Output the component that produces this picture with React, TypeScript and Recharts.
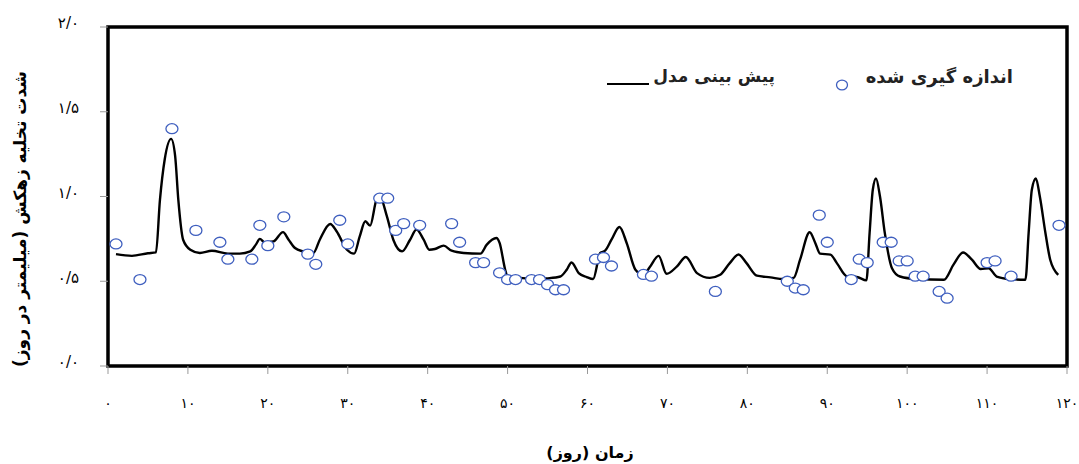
import { ComposedChart, Line, Scatter, XAxis, YAxis, ReferenceArea } from "recharts";

// روزهای اندازه گیری و شدت تخلیه (mm/day)
const measuredDays = [
  1, 4, 8, 11, 14, 15, 18, 19, 20, 22, 25, 26, 29, 30, 34, 35, 36, 37, 39, 43,
  44, 46, 47, 49, 50, 51, 53, 54, 55, 56, 57, 61, 62, 63, 67, 68, 76, 85, 86, 87,
  89, 90, 93, 94, 95, 97, 98, 99, 100, 101, 102, 104, 105, 110, 111, 113, 119,
];
const measuredValues = [
  0.72, 0.51, 1.4, 0.8, 0.73, 0.63, 0.63, 0.83, 0.71, 0.88, 0.66, 0.6, 0.86, 0.72,
  0.99, 0.99, 0.8, 0.84, 0.83, 0.84, 0.73, 0.61, 0.61, 0.55, 0.51, 0.51, 0.51,
  0.51, 0.48, 0.45, 0.45, 0.63, 0.64, 0.59, 0.54, 0.53, 0.44, 0.5, 0.46, 0.45,
  0.89, 0.73, 0.51, 0.63, 0.61, 0.73, 0.73, 0.62, 0.62, 0.53, 0.53, 0.44, 0.4,
  0.61, 0.62, 0.53, 0.83,
];

// پیش بینی مدل
const modelDays = [
  1, 3, 5, 6, 6.5, 7.1, 7.9, 8.4, 8.8, 9.4, 10.3, 11.5, 13, 15, 16.5, 17.8, 18.5,
  19, 19.6, 20.7, 21.9, 22.6, 23.4, 24.4, 25.7, 26.5, 27.8, 28.6, 29.9, 30.8,
  31.5, 32.2, 32.8, 33.6, 34, 34.9, 35.7, 36.8, 37.8, 38.6, 39.5, 40.2, 40.9, 42,
  43, 44.5, 46.6, 47.4, 48.6, 49, 49.7, 50, 51.6, 53.7, 54.9, 56.6, 57.4, 58,
  58.9, 59.9, 60.7, 61.6, 62.2, 63, 64, 64.9, 66, 67, 67.8, 68.9, 69.9, 71.2,
  72.3, 73.7, 75.3, 76.6, 77.8, 78.9, 79.9, 81.2, 82.9, 84.5, 85.8, 86.6, 87.8,
  88.5, 89.1, 90.4, 91.2, 92.5, 93.7, 94.9, 95.3, 95.7, 96.1, 96.6, 97.2, 98.1,
  99.1, 101.2, 104.6, 105.8, 107, 108.1, 109.2, 110.2, 111.2, 112.9, 114.8,
  115.2, 115.6, 116.1, 116.6, 117.3, 117.9, 118.9,
];
const modelValues = [
  0.66, 0.65, 0.665, 0.67, 0.98, 1.22, 1.34, 1.24, 0.98, 0.745, 0.686, 0.667,
  0.68, 0.663, 0.663, 0.676, 0.716, 0.75, 0.73, 0.735, 0.79, 0.745, 0.696, 0.676,
  0.667, 0.745, 0.838, 0.795, 0.686, 0.663, 0.765, 0.854, 0.828, 0.982, 1.0,
  0.883, 0.745, 0.676, 0.745, 0.805, 0.745, 0.686, 0.69, 0.71, 0.68, 0.667,
  0.663, 0.716, 0.755, 0.726, 0.568, 0.525, 0.52, 0.513, 0.517, 0.528, 0.568,
  0.611, 0.548, 0.525, 0.513, 0.667, 0.68, 0.745, 0.82, 0.726, 0.568, 0.538,
  0.584, 0.65, 0.544, 0.588, 0.643, 0.548, 0.52, 0.538, 0.607, 0.658, 0.607,
  0.533, 0.523, 0.513, 0.52, 0.627, 0.789, 0.726, 0.663, 0.657, 0.607, 0.528,
  0.525, 0.505, 0.785, 1.04, 1.106, 1.0, 0.785, 0.577, 0.528, 0.513, 0.509,
  0.598, 0.67, 0.627, 0.572, 0.577, 0.528, 0.513, 0.509, 0.785, 1.04, 1.106, 1.0,
  0.785, 0.627, 0.538,
];

const xTicks = [0, 10, 20, 30, 40, 50, 60, 70, 80, 90, 100, 110, 120];
const yTicks = [0, 0.5, 1, 1.5, 2];

const FONT = "'DejaVu Sans', sans-serif";
const BLUE = "#3f5fbf";

const faDigits = (s: string) => s.replace(/\d/g, (d) => "۰۱۲۳۴۵۶۷۸۹"[+d]);

const measured = measuredDays.map((x, i) => ({ x, y: measuredValues[i] }));
const model = modelDays.map((x, i) => ({ x, y: modelValues[i] }));

function OpenCircle(props: any) {
  const { cx, cy } = props;
  if (cx == null || cy == null) return null;
  return <ellipse cx={cx} cy={cy} rx={6} ry={5} fill="#fff" stroke={BLUE} strokeWidth={1.3} />;
}

export default function App() {
  return (
    <div style={{ position: "absolute", left: 0, top: 0, width: 1079, height: 464, background: "#fff", fontFamily: FONT }}>
      <ComposedChart width={1079} height={464} margin={{ top: 27, right: 12, bottom: 68, left: 0 }}>
        <XAxis
          type="number"
          dataKey="x"
          domain={[0, 120]}
          ticks={xTicks}
          interval={0}
          height={30}
          axisLine={false}
          tickLine={{ stroke: "#999" }}
          tickSize={8}
          tickMargin={24}
          tick={{ fontSize: 14, fill: "#000", fontFamily: FONT }}
          tickFormatter={(v: number) => faDigits(String(v))}
        />
        <YAxis
          type="number"
          domain={[0, 2]}
          ticks={yTicks}
          interval={0}
          width={108}
          axisLine={false}
          tickLine={{ stroke: "#999" }}
          tickSize={8}
          tickMargin={21}
          tick={{ fontSize: 15, fill: "#000", fontFamily: FONT, dy: -4 }}
          tickFormatter={(v: number) => faDigits(v.toFixed(1).replace(".", "/"))}
        />
        <Line
          data={model}
          dataKey="y"
          type="monotone"
          stroke="#000"
          strokeWidth={2.4}
          dot={false}
          isAnimationActive={false}
        />
        <Scatter data={measured} dataKey="y" shape={<OpenCircle />} isAnimationActive={false} />
        <ReferenceArea x1={0} x2={120} y1={0} y2={2} fill="none" stroke="#000" strokeWidth={3.5} ifOverflow="visible" />
      </ComposedChart>

      {/* legend */}
      <div dir="rtl" style={{ position: "absolute", right: 1079 - 1013, top: 66, fontSize: 18, fontWeight: "bold", color: "#222", whiteSpace: "nowrap" }}>
        اندازه گیری شده
      </div>
      <svg style={{ position: "absolute", left: 835, top: 79 }} width={14} height={12}>
        <ellipse cx={7} cy={6} rx={5.5} ry={4.8} fill="#fff" stroke={BLUE} strokeWidth={1.3} />
      </svg>
      <div dir="rtl" style={{ position: "absolute", right: 1079 - 775, top: 66, fontSize: 17, fontWeight: "bold", color: "#222", whiteSpace: "nowrap" }}>
        پیش بینی مدل
      </div>
      <div style={{ position: "absolute", left: 607, top: 83, width: 42, height: 2, background: "#000" }} />

      {/* axis titles */}
      <div dir="rtl" style={{ position: "absolute", left: 590, top: 452, transform: "translate(-50%, -50%)", fontSize: 16, fontWeight: "bold", whiteSpace: "nowrap" }}>
        زمان (روز)
      </div>
      <div dir="rtl" style={{ position: "absolute", left: 20, top: 219, transform: "translate(-50%, -50%) rotate(-90deg)", fontSize: 17, fontWeight: "bold", whiteSpace: "nowrap" }}>
        شدت تخلیه زهکش (میلیمتر در روز)
      </div>
    </div>
  );
}
